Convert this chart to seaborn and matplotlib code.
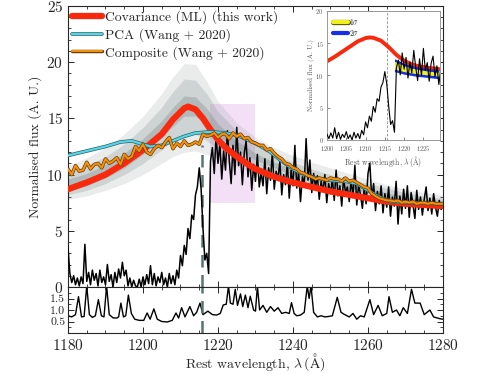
import numpy as np
import matplotlib
matplotlib.use("Agg")
import matplotlib.pyplot as plt
import matplotlib.patheffects as pe
from matplotlib.ticker import MultipleLocator
import seaborn as sns

# ---------------------------------------------------------------
# data
# ---------------------------------------------------------------
lya_wave = 1215.67
dash_top = 12.6

# observed spectrum, 0.5 A grid from 1180 to 1280
spec_wave = np.arange(1180.0, 1280.01, 0.5)
spec_flux = [
    3.5, 1.2, 0.4, 1.0, 0.2, 0.8, 0.1, 0.9, 0.3, 3.8,
    0.5, 1.3, 0.2, 1.5, 0.6, 1.2, 0.1, 1.5, 0.4, 0.9,
    0.2, 2.0, 0.5, 1.1, 0.0, 1.3, 0.4, 1.6, 0.8, 2.2,
    1.0, 1.5, 0.1, 0.8, 0.0, 0.6, 0.1, 0.0, 0.7, 0.0,
    0.9, 0.2, 1.1, 0.3, 1.9, 0.2, 1.2, 0.1, 0.9, 0.4,
    1.3, 0.2, 0.8, 0.0, 1.2, 0.3, 1.0, 0.2, 1.5, 0.8,
    2.8, 1.9, 3.7, 2.9, 5.2, 4.3, 6.4, 6.0, 8.2, 8.9,
    10.6, 8.7, 5.2, 2.4, 3.0, 1.2, 11.2, 12.4, 10.1, 13.5,
    11.0, 12.8, 9.6, 12.1, 10.4, 13.9, 11.3, 9.2, 12.6, 10.0,
    14.2, 10.8, 12.0, 9.1, 11.9, 13.0, 9.8, 11.5, 8.6, 10.9,
    9.4, 11.8, 8.9, 10.2, 9.0, 11.4, 8.3, 10.6, 9.5, 12.0,
    8.7, 10.3, 9.6, 11.2, 8.2, 10.0, 9.1, 11.0, 7.9, 10.4,
    9.0, 12.6, 8.8, 10.2, 7.6, 9.8, 9.1, 13.2, 9.5, 11.3,
    8.4, 10.1, 8.9, 9.9, 7.8, 9.4, 8.5, 10.0, 7.5, 9.2,
    8.3, 9.6, 7.7, 10.4, 8.1, 9.0, 7.2, 9.7, 8.4, 8.9,
    7.6, 9.5, 8.0, 10.8, 7.3, 9.1, 8.2, 7.0, 8.8, 7.4,
    10.1, 11.0, 7.8, 9.2, 6.8, 8.5, 7.4, 9.0, 6.6, 8.3,
    7.1, 8.9, 6.3, 8.0, 7.2, 9.4, 5.6, 8.1, 6.5, 8.7,
    7.0, 9.0, 6.2, 8.4, 7.3, 6.1, 8.6, 6.9, 8.0, 6.4,
    7.8, 8.9, 6.8, 7.9, 6.5, 8.3, 7.1, 6.3, 7.7, 6.9,
    7.5,
]

# covariance (ML) reconstruction
cov_wave = [1180, 1185, 1190, 1195, 1200, 1205, 1208, 1211, 1212, 1214, 1216,
            1218, 1220, 1222, 1225, 1228, 1230, 1235, 1240, 1245, 1250, 1255,
            1260, 1265, 1270, 1275, 1280]
cov_flux = [8.7, 9.3, 10.0, 11.0, 12.2, 13.6, 14.9, 15.9, 16.05, 15.8, 15.0,
            14.0, 13.1, 12.4, 11.6, 10.9, 10.5, 9.8, 9.3, 8.9, 8.5, 8.2,
            7.9, 7.6, 7.4, 7.3, 7.2]

# PCA (Wang+2020)
pca_wave = [1180, 1185, 1190, 1194, 1197, 1199, 1202, 1205, 1208, 1211, 1214,
            1218, 1222, 1225, 1228, 1231, 1234, 1237, 1240, 1243, 1246, 1250,
            1254, 1257, 1260, 1263, 1266, 1270, 1275, 1280]
pca_flux = [11.7, 12.1, 12.5, 12.9, 13.0, 12.8, 12.5, 12.6, 13.0, 13.4, 13.7,
            13.8, 13.7, 13.5, 13.1, 12.6, 12.0, 11.2, 10.5, 10.0, 9.7, 9.5,
            9.4, 9.2, 8.6, 8.0, 7.6, 7.5, 7.45, 7.4]

# composite (Wang+2020), 1 A grid
comp_wave = np.arange(1180.0, 1280.01, 1.0)
comp_flux = [
    10.5, 10.0, 10.8, 10.3, 10.4, 11.1, 10.5, 10.9, 11.0, 10.6,
    11.4, 11.0, 11.2, 11.5, 10.9, 11.8, 11.4, 11.6, 12.5, 12.1,
    12.7, 12.0, 11.8, 12.3, 12.6, 12.4, 12.9, 13.3, 12.3, 12.8,
    12.5, 13.0, 12.6, 12.7, 12.9, 12.7, 13.6, 13.4, 13.5, 13.7,
    13.3, 13.6, 13.6, 13.2, 13.7, 13.4, 13.6, 13.2, 13.3, 12.9,
    12.8, 12.6, 12.6, 12.2, 12.3, 11.9, 11.6, 11.4, 11.0, 10.9,
    10.6, 10.5, 10.2, 10.1, 9.9, 9.8, 9.6, 9.7, 9.6, 9.5,
    9.7, 9.6, 9.6, 9.4, 9.7, 9.4, 9.5, 9.3, 9.1, 8.9,
    8.8, 8.3, 8.1, 7.9, 7.8, 7.7, 7.7, 7.6, 7.7, 7.5,
    7.6, 7.5, 7.6, 7.4, 7.5, 7.5, 7.4, 7.5, 7.4, 7.4,
    7.4,
]

# envelope of the ensemble of sampled continua (grey)
ens_wave = [1180, 1185, 1190, 1195, 1200, 1205, 1208, 1211, 1214, 1217, 1220,
            1225, 1230, 1235, 1240, 1245, 1250, 1255, 1260, 1265, 1270, 1275, 1280]
ens_outer_hi = [10.8, 11.5, 12.4, 13.6, 15.2, 17.2, 18.7, 19.9, 19.8, 18.3, 16.5,
                14.6, 13.3, 12.4, 11.7, 11.1, 10.6, 10.1, 9.6, 9.1, 8.7, 8.4, 8.2]
ens_outer_lo = [7.8, 8.1, 8.6, 9.2, 10.0, 11.0, 11.6, 12.0, 12.1, 11.8, 11.3,
                10.7, 10.1, 9.6, 9.1, 8.7, 8.4, 8.1, 7.8, 7.5, 7.3, 7.1, 7.0]
ens_mid_hi = [10.2, 10.8, 11.6, 12.7, 14.2, 16.0, 17.4, 18.5, 18.4, 17.2, 15.6,
              13.9, 12.7, 11.8, 11.1, 10.5, 10.0, 9.6, 9.2, 8.8, 8.4, 8.1, 7.9]
ens_mid_lo = [8.2, 8.6, 9.2, 10.0, 11.0, 12.2, 13.0, 13.6, 13.6, 13.0, 12.3,
              11.3, 10.5, 9.9, 9.4, 9.0, 8.6, 8.3, 8.0, 7.7, 7.4, 7.2, 7.1]
ens_core_hi = [9.6, 10.1, 10.9, 11.9, 13.2, 14.8, 16.0, 17.0, 16.9, 15.9, 14.5,
               13.0, 11.9, 11.1, 10.5, 10.0, 9.5, 9.2, 8.8, 8.4, 8.0, 7.8, 7.7]
ens_core_lo = [8.6, 9.0, 9.7, 10.6, 11.8, 13.3, 14.3, 15.2, 15.2, 14.4, 13.4,
               12.2, 11.3, 10.6, 10.0, 9.5, 9.1, 8.8, 8.4, 8.0, 7.7, 7.5, 7.4]

# highlighted window (pink box)
box_wave = (1218, 1230)
box_flux = (7.5, 16.3)

# lower panel
low_wave = [1180, 1181, 1182, 1182.8, 1183.6, 1184.3, 1185, 1185.7, 1186.5, 1187.3,
            1188.1, 1188.9, 1189.6, 1190.3, 1191, 1192, 1193, 1193.5, 1194.1, 1194.8,
            1195.4, 1196.1, 1196.9, 1197.8, 1199, 1200.2, 1201.1, 1201.9, 1202.9, 1203.8,
            1205, 1206.5, 1207.8, 1208.8, 1209.5, 1210.3, 1211.2, 1212.5, 1213.5, 1214.3,
            1215.2, 1216, 1217.3, 1218.5, 1219.6, 1220.6, 1221.4, 1222.2, 1222.8, 1223.3,
            1224, 1224.6, 1225.2, 1226, 1226.6, 1227.3, 1228, 1228.6, 1229.5, 1230,
            1230.5, 1231.1, 1232, 1233, 1234, 1235, 1236, 1237, 1238, 1239,
            1239.6, 1240.3, 1241, 1242, 1243, 1243.8, 1244.3, 1244.8, 1245.5, 1246.5,
            1247.5, 1248.5, 1249.5, 1250.5, 1251.8, 1252.8, 1253.8, 1255, 1256, 1257,
            1258, 1259, 1260.5, 1261.5, 1262.7, 1263.8, 1265, 1265.6, 1266.5, 1267.6,
            1268.5, 1269.4, 1270.5, 1271.6, 1272.5, 1273.9, 1275, 1276.5, 1277.5, 1279.2,
            1280]
low_val = [0.75, 0.7, 0.8, 1.58, 0.7, 0.72, 2.05, 0.8, 0.68, 0.75,
           1.45, 0.75, 0.7, 2.05, 0.8, 0.66, 0.65, 0.7, 1.3, 0.7,
           0.75, 1.65, 0.85, 0.6, 0.55, 0.55, 0.87, 0.6, 1.05, 0.6,
           0.5, 0.48, 0.55, 0.87, 0.65, 1.1, 0.7, 1.15, 0.75, 0.9,
           1.3, 0.8, 0.95, 0.8, 0.78, 0.85, 1.22, 1.25, 2.05, 1.3,
           1.25, 1.9, 1.2, 1.7, 1.15, 1.65, 1.1, 1.6, 1.0, 0.95,
           2.05, 1.0, 1.2, 0.9, 1.15, 0.95, 1.1, 0.85, 0.9, 0.85,
           1.32, 0.85, 0.75, 0.78, 0.9, 2.05, 1.5, 2.05, 0.9, 0.7,
           0.75, 0.7, 0.72, 0.75, 1.55, 0.9, 0.8, 0.7, 0.85, 0.6,
           0.75, 0.7, 1.45, 0.8, 1.2, 0.75, 0.85, 1.58, 0.9, 1.0,
           0.75, 1.1, 0.85, 1.9, 1.3, 1.3, 0.8, 1.0, 0.7, 0.62,
           0.6]

# inset: reconstruction and 1/2 sigma bands
ins_cov_wave = [1200, 1202, 1204, 1206, 1208, 1210, 1211, 1212, 1214, 1216,
                1218, 1220, 1222, 1224, 1226, 1229]
ins_cov_flux = [12.2, 12.9, 13.7, 14.5, 15.3, 15.8, 15.9, 15.85, 15.4, 14.4,
                13.2, 12.3, 11.7, 11.4, 11.2, 11.0]
band_wave = [1217.5, 1220, 1223, 1226, 1229]
two_sig_hi = [12.6, 11.9, 11.4, 11.1, 10.9]
two_sig_lo = [10.6, 10.2, 9.9, 9.7, 9.5]
one_sig_hi = [12.2, 11.5, 11.0, 10.7, 10.5]
one_sig_lo = [11.0, 10.6, 10.3, 10.1, 9.9]

# ---------------------------------------------------------------
# style
# ---------------------------------------------------------------
sns.set_theme(style="ticks")
plt.rcParams["font.family"] = ["cmr10", "DejaVu Serif"]
plt.rcParams["mathtext.fontset"] = "cm"
plt.rcParams["axes.unicode_minus"] = False
plt.rcParams["axes.formatter.use_mathtext"] = True
plt.rcParams["xtick.direction"] = "in"
plt.rcParams["ytick.direction"] = "in"

RED = "#f8290c"
CYAN = "#55d6e6"
ORANGE = "#f2900e"
GREY = "#7d8c8c"
FS = 11
LFS = 9.8

fig = plt.figure(figsize=(4.85, 3.74), dpi=100)
ax = fig.add_axes([0.1402, 0.2326, 0.7732, 0.7514])
axr = fig.add_axes([0.1402, 0.1096, 0.7732, 0.1230], sharex=ax)

# ---------------------------------------------------------------
# main panel
# ---------------------------------------------------------------
ax.fill_between(ens_wave, ens_outer_lo, ens_outer_hi, color=GREY, alpha=0.16, lw=0, zorder=1)
ax.fill_between(ens_wave, ens_mid_lo, ens_mid_hi, color=GREY, alpha=0.25, lw=0, zorder=1)
ax.fill_between(ens_wave, ens_core_lo, ens_core_hi, color=GREY, alpha=0.35, lw=0, zorder=1)
ax.fill_between(box_wave, box_flux[0], box_flux[1], color="#f3e0f7", lw=0, zorder=0)

ax.vlines(lya_wave, 0, dash_top, color="#5b7272", lw=1.8, linestyles=(0, (5, 3)), zorder=2)

sns.lineplot(x=spec_wave, y=spec_flux, ax=ax, color="black", lw=1.1,
             sort=False, estimator=None, zorder=3)
sns.lineplot(x=cov_wave, y=cov_flux, ax=ax, color=RED, lw=4.5,
             label="Covariance (ML) (this work)", sort=False, estimator=None, zorder=4)
sns.lineplot(x=pca_wave, y=pca_flux, ax=ax, color=CYAN, lw=1.6,
             label="PCA (Wang + 2020)", sort=False, estimator=None, zorder=5,
             path_effects=[pe.Stroke(linewidth=2.6, foreground="#2d5f66"), pe.Normal()])
sns.lineplot(x=comp_wave, y=comp_flux, ax=ax, color=ORANGE, lw=1.5,
             label="Composite (Wang + 2020)", sort=False, estimator=None, zorder=6,
             path_effects=[pe.Stroke(linewidth=2.5, foreground="#6a3d05"), pe.Normal()])

ax.set_xlim(1180, 1280)
ax.set_ylim(0, 25)
ax.yaxis.set_major_locator(MultipleLocator(5))
ax.yaxis.set_minor_locator(MultipleLocator(1))
ax.xaxis.set_major_locator(MultipleLocator(20))
ax.xaxis.set_minor_locator(MultipleLocator(5))
ax.tick_params(which="both", top=True, right=True, labelbottom=False, labelsize=FS)
ax.tick_params(which="major", length=4, width=0.7)
ax.tick_params(which="minor", length=2, width=0.6)
ax.set_ylabel("Normalised flux (A. U.)", fontsize=LFS, labelpad=3)
ax.set_xlabel("")
for s in ax.spines.values():
    s.set_linewidth(0.8)

leg = ax.legend(loc="upper left", frameon=False, fontsize=LFS, handlelength=2.2,
                handletextpad=0.2, labelspacing=0.3, borderaxespad=0.2,
                borderpad=0.1)

# ---------------------------------------------------------------
# lower panel
# ---------------------------------------------------------------
sns.lineplot(x=low_wave, y=low_val, ax=axr, color="black", lw=1.0,
             sort=False, estimator=None)
axr.axvline(lya_wave, color="#5b7272", lw=1.8, ls=(0, (5, 3)))
axr.set_ylim(0, 2.0)
axr.set_yticks([0.5, 1.0, 1.5])
axr.set_yticklabels(["0.5", "1.0", "1.5"])
axr.yaxis.set_minor_locator(MultipleLocator(0.25))
axr.tick_params(which="both", top=True, right=True, labelsize=FS)
axr.tick_params(axis="y", labelsize=8.5, pad=2)
axr.tick_params(which="major", length=4, width=0.7)
axr.tick_params(which="minor", length=2, width=0.6)
axr.set_xticks([1180, 1200, 1220, 1240, 1260, 1280])
axr.set_xlabel(r"Rest wavelength, $\lambda\,(\mathrm{\AA})$", fontsize=10)
axr.xaxis.set_label_coords(0.5, -0.40)
axr.set_ylabel("")
for s in axr.spines.values():
    s.set_linewidth(0.8)

# ---------------------------------------------------------------
# inset
# ---------------------------------------------------------------
ins = fig.add_axes([0.6742, 0.6257, 0.2330, 0.3449])
ins.fill_between(band_wave, two_sig_lo, two_sig_hi, color="#1530e8", lw=0, zorder=2)
ins.fill_between(band_wave, one_sig_lo, one_sig_hi, color="#f0f020", lw=0, zorder=3)
sns.lineplot(x=ins_cov_wave, y=ins_cov_flux, ax=ins, color=RED, lw=2.8,
             sort=False, estimator=None, zorder=1)
sns.lineplot(x=spec_wave, y=spec_flux, ax=ins, color="black", lw=0.8,
             sort=False, estimator=None, zorder=4)
ins.axvline(lya_wave, color="#888888", lw=0.6, ls=(0, (3, 2)), zorder=0)
ins.plot([], [], color="#f0f020", lw=3, label=r"$1\sigma$",
         path_effects=[pe.Stroke(linewidth=3.8, foreground="#555500"), pe.Normal()])
ins.plot([], [], color="#1530e8", lw=3, label=r"$2\sigma$")
ins.legend(loc="upper left", frameon=False, fontsize=5.5, handlelength=2.0,
           handletextpad=0.1, labelspacing=0.1, borderaxespad=0.4)
ins.set_xlim(1200, 1229.3)
ins.set_ylim(0, 20)
ins.set_xticks([1200, 1205, 1210, 1215, 1220, 1225])
ins.set_yticks([0, 5, 10, 15, 20])
ins.tick_params(which="both", labelsize=4.6, colors="#555555", length=2, width=0.5, pad=1.5)
ins.tick_params(axis="y", pad=2.5)
ins.tick_params(axis="x", pad=3)
ins.set_xlabel(r"Rest wavelength, $\lambda\,(\mathrm{\AA})$", fontsize=5.5,
               color="#555555", labelpad=0.5)
ins.set_ylabel("Normalised flux (A. U.)", fontsize=5.0, color="#555555", labelpad=0.5)
for s in ins.spines.values():
    s.set_color("#999999")
    s.set_linewidth(0.7)

fig.savefig("out.png", dpi=100)
plt.close("all")
